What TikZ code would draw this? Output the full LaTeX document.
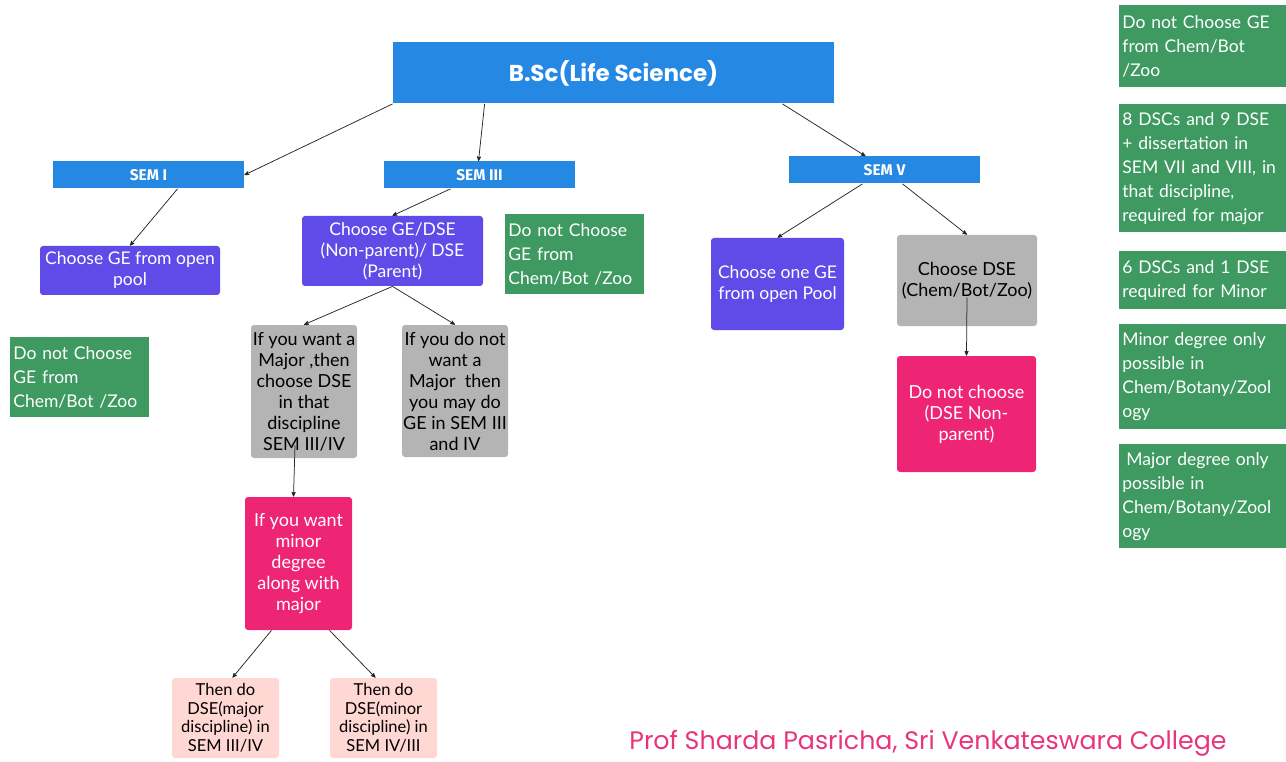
\documentclass[tikz,border=0pt]{standalone}
\usepackage{fontspec}
\setmainfont{Lato}
\newfontfamily\popfont{Poppins}
\newfontfamily\firafont{Fira Sans}
\usetikzlibrary{shapes, arrows, positioning}
\definecolor{semblue}{HTML}{2589E3}
\definecolor{choosepurple}{HTML}{614BE8}
\definecolor{notegreen}{HTML}{3E9A61}
\definecolor{optgray}{HTML}{B4B4B4}
\definecolor{minorpink}{HTML}{EE2474}
\definecolor{lightpink}{HTML}{FFD7D3}
\definecolor{creditpink}{HTML}{E8357A}

\begin{document}
\begin{tikzpicture}[x=1pt, y=-1pt, ->, >=stealth', line width=0.75pt, color=black!85]
\tikzstyle{every node}=[font=\fontsize{17.5}{21}\selectfont, align=center, inner sep=1pt, text=black]
\tikzstyle{rootbox}=[rectangle, fill=semblue, text=white, font=\popfont\bfseries\fontsize{23}{26}\selectfont, minimum width=441, minimum height=61]
\tikzstyle{sembox}=[rectangle, fill=semblue, text=white, font=\firafont\bfseries\fontsize{15.5}{17}\selectfont, minimum width=191, minimum height=27]
\tikzstyle{choosebox}=[rectangle, rounded corners=3pt, fill=choosepurple, text=white]
\tikzstyle{optbox}=[rectangle, rounded corners=3pt, fill=optgray, font=\fontsize{18}{21}\selectfont]
\tikzstyle{minorbox}=[rectangle, rounded corners=3pt, fill=minorpink, text=white, font=\fontsize{18}{21}\selectfont]
\tikzstyle{thenbox}=[rectangle, rounded corners=3pt, fill=lightpink, font=\fontsize{16.5}{18.5}\selectfont, minimum width=107, minimum height=80]
\tikzstyle{notebox}=[rectangle, fill=notegreen, text=white, align=left, anchor=north west, inner sep=3pt, font=\fontsize{17.5}{24}\selectfont]
\useasboundingbox (0,0) rectangle (1286,762);

\node[rootbox] (bsc) at (613.5,73) {B.Sc(Life Science)};
\node[sembox] (sem1) at (148.5,175) {SEM I};
\node[sembox] (sem3) at (479.5,175) {SEM III};
\node[sembox] (sem5) at (884.5,170) {SEM V};

\node[choosebox, minimum width=180, minimum height=49] (gepool) at (130,270.5) {Choose GE from open\\pool};
\node[choosebox, minimum width=181, minimum height=70] (gedse) at (392.5,251) {Choose GE/DSE\\(Non-parent)/ DSE\\(Parent)};
\node[notebox, text width=133, minimum height=80] (note3) at (505,214) {Do not Choose\\GE from\\Chem/Bot /Zoo};
\node[notebox, text width=133, minimum height=80] (note1) at (10,337) {Do not Choose\\GE from\\Chem/Bot /Zoo};

\node[optbox, minimum width=106, minimum height=133] (major) at (304,391.5) {If you want a\\Major ,then\\choose DSE\\in that\\discipline\\SEM III/IV};
\node[optbox, minimum width=106, minimum height=132] (nomajor) at (455,391) {If you do not\\want a\\Major~ then\\you may do\\GE in SEM III\\and IV};
\node[minorbox, minimum width=107, minimum height=133] (minor) at (298.5,563.5) {If you want\\minor\\degree\\along with\\major};
\node[thenbox] (thenmajor) at (225.5,718) {Then do\\DSE(major\\discipline) in\\SEM III/IV};
\node[thenbox] (thenminor) at (383.5,718) {Then do\\DSE(minor\\discipline) in\\SEM IV/III};

\node[choosebox, minimum width=133, minimum height=92] (onege) at (777.5,284) {Choose one GE\\from open Pool};
\node[optbox, minimum width=140, minimum height=91] (dse) at (967,280.5) {Choose DSE\\(Chem/Bot/Zoo)};
\node[minorbox, minimum width=139, minimum height=116] (donot) at (966.5,414) {Do not choose\\(DSE Non-\\parent)};

\node[notebox, text width=161, minimum height=82] (r1) at (1119,5) {Do not Choose GE\\from Chem/Bot\\/Zoo};
\node[notebox, text width=161, minimum height=128] (r2) at (1119,104) {8 DSCs and 9 DSE\\+ dissertation in\\SEM VII and VIII, in\\that discipline,\\required for major};
\node[notebox, text width=161, minimum height=58] (r3) at (1119,251) {6 DSCs and 1 DSE\\required for Minor};
\node[notebox, text width=161, minimum height=105] (r4) at (1119,324) {Minor degree only\\possible in\\Chem/Botany/Zool\\ogy};
\node[notebox, text width=161, minimum height=104] (r5) at (1119,444) {\hspace{4pt}Major degree only\\possible in\\Chem/Botany/Zool\\ogy};

\node[anchor=west, text=creditpink, font=\popfont\fontsize{25.3}{29}\selectfont] (credit) at (628,743) {Prof Sharda Pasricha, Sri Venkateswara College};

\draw (bsc.south west) -- (sem1.east);
\draw ([xshift=92]bsc.south west) -- ([xshift=-1]sem3.north);
\draw ([xshift=-52]bsc.south east) -- ([xshift=-19]sem5.north);
\draw ([xshift=29]sem1.south) -- (gepool.north);
\draw ([xshift=-29]sem3.south) -- (gedse.north);
\draw (gedse.south) -- (major.north);
\draw (gedse.south) -- (nomajor.north);
\draw ([xshift=-9, yshift=13]major.south) -- ([xshift=-5]minor.north);
\draw ([xshift=-27]minor.south) -- ([xshift=7]thenmajor.north);
\draw ([xshift=31]minor.south) -- ([xshift=-8]thenminor.north);
\draw ([xshift=-22]sem5.south) -- (onege.north);
\draw ([xshift=18]sem5.south) -- (dse.north);
\draw ([yshift=-17]dse.center) -- (donot.north);

\end{tikzpicture}
\end{document}
